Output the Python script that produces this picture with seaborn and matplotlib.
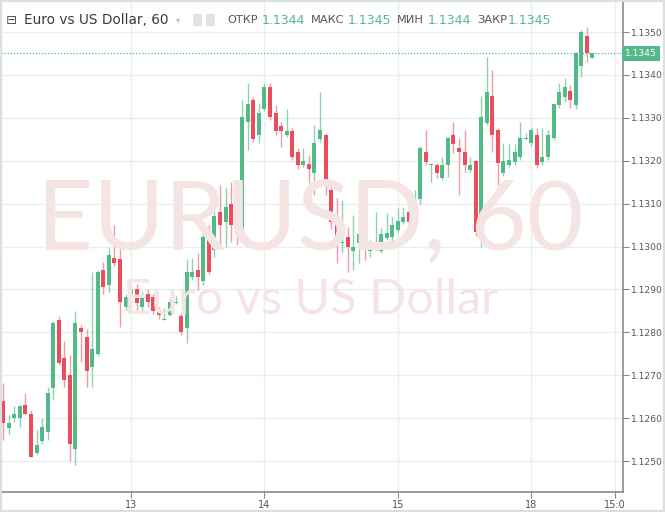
import matplotlib
matplotlib.use("Agg")
import matplotlib.pyplot as plt
from matplotlib.patches import Rectangle
import numpy as np
import pandas as pd
import seaborn as sns

# Hourly EURUSD candles (bar 1 = 12th 01:00)
opens = [
    1.12640, 1.12577, 1.12600, 1.12600, 1.12630, 1.12610, 1.12519, 1.12547, 1.12568, 1.12670,
    1.12829, 1.12740, 1.12700, 1.12528, 1.12810, 1.12789, 1.12720, 1.12750, 1.12945, 1.12910,
    1.12973, 1.12971, 1.12859, 1.12889, 1.12900, 1.12859, 1.12889, 1.12882, 1.12852, 1.12829,
    1.12840, 1.12868, 1.12838, 1.12810, 1.12930, 1.12945, 1.12920, 1.13031, 1.12992, 1.13080,
    1.13057, 1.13100, 1.13041, 1.13038, 1.13290, 1.13341, 1.13260, 1.13321, 1.13372, 1.13311,
    1.13281, 1.13260, 1.13269, 1.13220, 1.13190, 1.13192, 1.13171, 1.13250, 1.13260, 1.13132,
    1.13071, 1.13009, 1.13022, 1.12990, 1.13008, 1.13041, 1.12990, 1.12999, 1.12990, 1.13020,
    1.13022, 1.13038, 1.13057, 1.13080, 1.13050, 1.13111, 1.13220, 1.13190, 1.13190, 1.13160,
    1.13190, 1.13260, 1.13230, 1.13220, 1.13178, 1.13199, 1.13029, 1.13288, 1.13351, 1.13272,
    1.13171, 1.13190, 1.13197, 1.13209, 1.13250, 1.13241, 1.13260, 1.13197, 1.13209, 1.13253,
    1.13330, 1.13348, 1.13362, 1.13330, 1.13421, 1.13491, 1.13440,
]
highs = [
    1.12682, 1.12607, 1.12628, 1.12630, 1.12659, 1.12620, 1.12572, 1.12600, 1.12672, 1.12826,
    1.12838, 1.12780, 1.12747, 1.12850, 1.12817, 1.12808, 1.12941, 1.12945, 1.12964, 1.12997,
    1.13050, 1.13000, 1.12890, 1.12910, 1.12913, 1.12894, 1.12900, 1.12890, 1.12859, 1.12857,
    1.12880, 1.12885, 1.12845, 1.12971, 1.12973, 1.12985, 1.13050, 1.13050, 1.13132, 1.13143,
    1.13139, 1.13150, 1.13055, 1.13341, 1.13381, 1.13348, 1.13335, 1.13381, 1.13381, 1.13330,
    1.13290, 1.13321, 1.13276, 1.13230, 1.13230, 1.13213, 1.13283, 1.13360, 1.13265, 1.13140,
    1.13113, 1.13108, 1.13045, 1.13073, 1.13100, 1.13100, 1.13015, 1.13081, 1.13043, 1.13078,
    1.13069, 1.13090, 1.13090, 1.13100, 1.13132, 1.13234, 1.13272, 1.13195, 1.13195, 1.13209,
    1.13255, 1.13290, 1.13253, 1.13272, 1.13209, 1.13202, 1.13351, 1.13442, 1.13411, 1.13276,
    1.13241, 1.13239, 1.13239, 1.13290, 1.13265, 1.13279, 1.13276, 1.13276, 1.13272, 1.13335,
    1.13381, 1.13393, 1.13377, 1.13453, 1.13505, 1.13512, 1.13450,
]
lows = [
    1.12549, 1.12563, 1.12591, 1.12580, 1.12610, 1.12510, 1.12515, 1.12540, 1.12549, 1.12642,
    1.12725, 1.12672, 1.12500, 1.12490, 1.12730, 1.12672, 1.12672, 1.12745, 1.12890, 1.12894,
    1.12955, 1.12812, 1.12852, 1.12880, 1.12852, 1.12850, 1.12859, 1.12843, 1.12831, 1.12829,
    1.12838, 1.12866, 1.12794, 1.12775, 1.12922, 1.12899, 1.12910, 1.12935, 1.12976, 1.13003,
    1.12999, 1.13010, 1.13003, 1.13034, 1.13225, 1.13244, 1.13241, 1.13315, 1.13295, 1.13260,
    1.13232, 1.13255, 1.13202, 1.13180, 1.13185, 1.13148, 1.13120, 1.13243, 1.13120, 1.13040,
    1.12962, 1.12985, 1.12940, 1.12945, 1.12962, 1.12969, 1.12976, 1.12992, 1.12985, 1.13015,
    1.13010, 1.13034, 1.13052, 1.13050, 1.13038, 1.13100, 1.13190, 1.13150, 1.13160, 1.13155,
    1.13162, 1.13218, 1.13120, 1.13174, 1.13174, 1.13025, 1.12999, 1.13283, 1.13220, 1.13143,
    1.13165, 1.13185, 1.13190, 1.13202, 1.13248, 1.13235, 1.13183, 1.13190, 1.13202, 1.13248,
    1.13323, 1.13337, 1.13323, 1.13320, 1.13395, 1.13430, 1.13440,
]
closes = [
    1.12589, 1.12589, 1.12610, 1.12628, 1.12610, 1.12510, 1.12537, 1.12579, 1.12659, 1.12822,
    1.12728, 1.12689, 1.12540, 1.12822, 1.12800, 1.12710, 1.12761, 1.12941, 1.12906, 1.12980,
    1.12962, 1.12870, 1.12882, 1.12901, 1.12868, 1.12880, 1.12870, 1.12850, 1.12840, 1.12831,
    1.12870, 1.12870, 1.12800, 1.12941, 1.12940, 1.12930, 1.13022, 1.12940, 1.13071, 1.13050,
    1.13092, 1.13050, 1.13030, 1.13302, 1.13332, 1.13250, 1.13311, 1.13372, 1.13302, 1.13269,
    1.13269, 1.13269, 1.13209, 1.13190, 1.13199, 1.13180, 1.13241, 1.13271, 1.13139, 1.13057,
    1.13020, 1.13011, 1.12999, 1.12999, 1.13029, 1.12999, 1.12992, 1.13001, 1.13029, 1.13031,
    1.13050, 1.13059, 1.13069, 1.13057, 1.13100, 1.13230, 1.13197, 1.13192, 1.13171, 1.13190,
    1.13253, 1.13239, 1.13220, 1.13190, 1.13190, 1.13034, 1.13302, 1.13360, 1.13260, 1.13195,
    1.13199, 1.13202, 1.13220, 1.13253, 1.13253, 1.13272, 1.13190, 1.13209, 1.13260, 1.13332,
    1.13360, 1.13372, 1.13341, 1.13451, 1.13500, 1.13451, 1.13450,
]

day_ticks = [24, 48, 72, 96, 111]
day_labels = ["13", "14", "15", "18", "15:0"]
price_ticks = [1.1250, 1.1260, 1.1270, 1.1280, 1.1290, 1.1300, 1.1310, 1.1320, 1.1330, 1.1340, 1.1350]
last_price = 1.1345
ohlc_labels = ["ОТКР", "МАКС", "МИН", "ЗАКР"]
ohlc_values = ["1.1344", "1.1345", "1.1344", "1.1345"]

UP = "#53b987"
DOWN = "#eb4d5c"
UP_WICK = "#8fd0b0"
DOWN_WICK = "#f29aa3"
WATERMARK = "#f5e4e4"

sns.set_theme(style="white")
plt.rcParams["font.family"] = ["DejaVu Sans"]

df = pd.DataFrame({"open": opens, "high": highs, "low": lows, "close": closes})
df["bar"] = np.arange(1, len(df) + 1)
df["up"] = df["close"] >= df["open"]
df["body_low"] = df[["open", "close"]].min(axis=1)
df["body_h"] = (df["close"] - df["open"]).abs().clip(lower=0.000018)

fig = plt.figure(figsize=(6.65, 5.12), dpi=100)
ax = fig.add_axes([0.0015, 20 / 512, 622 / 665, 490 / 512])

for p in price_ticks:
    ax.axhline(p, color="#e9eff1", lw=1, zorder=0)
for t in day_ticks:
    ax.axvline(t, color="#e9eff1", lw=1, zorder=0)

# watermark
fig.text(0.466, 1 - 250 / 512, "EURUSD, 60", fontsize=70, color=WATERMARK,
         ha="center", va="baseline", family="Lato", zorder=0)
fig.text(0.468, 1 - 314 / 512, "Euro vs US Dollar", fontsize=35, color=WATERMARK,
         ha="center", va="baseline", family="Lato", zorder=0)

ax.vlines(df["bar"], df["low"], df["high"],
          colors=np.where(df["up"], UP_WICK, DOWN_WICK), lw=1, zorder=2)
ax.bar(df["bar"], df["body_h"], bottom=df["body_low"], width=0.72,
       color=np.where(df["up"], UP, DOWN), linewidth=0, zorder=3)

ax.axhline(last_price, color=UP, lw=0.9, ls=(0, (1, 1.5)), zorder=1)

ax.set_xlim(0.6, 112.5)
ax.set_ylim(1.12428, 1.13570)

ax.yaxis.tick_right()
ax.set_yticks(price_ticks)
ax.set_yticklabels([f"{p:.4f}" for p in price_ticks])
ax.set_xticks(day_ticks)
ax.set_xticklabels(day_labels)
ax.tick_params(axis="y", right=True, length=4, width=0.8, color="#8a8a8a",
               labelsize=6.6, labelcolor="#555555", pad=2)
ax.tick_params(axis="x", bottom=True, length=4, width=0.8, color="#8a8a8a",
               labelsize=7, labelcolor="#555555", pad=2)
for side in ["left", "top"]:
    ax.spines[side].set_visible(False)
for side in ["right", "bottom"]:
    ax.spines[side].set_color("#8a8a8a")
    ax.spines[side].set_linewidth(1.2)

# last price box
ax.annotate("1.1345", xy=(1.0, last_price), xycoords=("axes fraction", "data"),
            xytext=(1.5, 0), textcoords="offset points", ha="left", va="center",
            fontsize=6.6, color="white",
            bbox=dict(boxstyle="square,pad=0.3", fc=UP, ec="none"))

# header line
hy = 1 - 20 / 512
fig.text(6 / 665, hy, "⊟", fontsize=9.5, color="#555555", va="center")
fig.text(24 / 665, hy, "Euro vs US Dollar, 60", fontsize=9.8, color="#3a3a3a", va="center")
fig.text(176 / 665, hy, "▾", fontsize=6, color="#bbbbbb", va="center")
fig.patches.append(Rectangle((193 / 665, hy - 6 / 512), 9 / 665, 12 / 512,
                             transform=fig.transFigure, fc="#e2e2e2", ec="none"))
fig.patches.append(Rectangle((206 / 665, hy - 6 / 512), 9 / 665, 12 / 512,
                             transform=fig.transFigure, fc="#e2e2e2", ec="none"))
xs_lab = [227, 311, 397, 477]
xs_val = [262, 348, 428, 508]
for lab, val, xl, xv in zip(ohlc_labels, ohlc_values, xs_lab, xs_val):
    fig.text(xl / 665, hy, lab, fontsize=8.2, color="#555555", va="center")
    fig.text(xv / 665, hy, val, fontsize=9, color=UP, va="center")

# outer frame
fig.patches.append(Rectangle((0, 0), 1, 1, transform=fig.transFigure,
                             fill=False, ec="#dcdfe2", lw=3))

fig.savefig("out.png", dpi=100)
